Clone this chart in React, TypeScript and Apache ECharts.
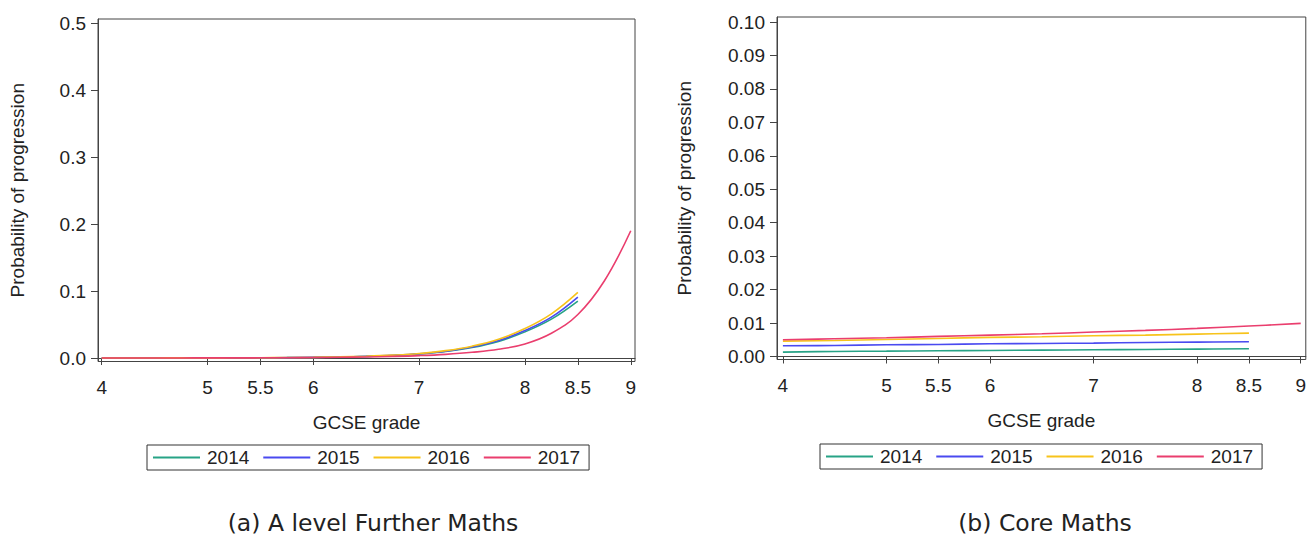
import React, { useEffect, useRef } from "react";
import * as echarts from "echarts";

// ---- Data ----
const years = ["2014", "2015", "2016", "2017"];
const colors = ["#27a386", "#4a4af0", "#f7c31b", "#ea3e6e"];

const xTickValues = [4, 5, 5.5, 6, 7, 8, 8.5, 9];
const yTicksA = [0, 0.1, 0.2, 0.3, 0.4, 0.5];
const yTicksB = [0, 0.01, 0.02, 0.03, 0.04, 0.05, 0.06, 0.07, 0.08, 0.09, 0.1];

// (a) A level Further Maths
const gradesA = [4, 4.25, 4.5, 4.75, 5, 5.25, 5.5, 5.75, 6, 6.25, 6.5, 6.75, 7, 7.25, 7.5, 7.75, 8, 8.25, 8.5];
const gradesA2017 = [4, 4.25, 4.5, 4.75, 5, 5.25, 5.5, 5.75, 6, 6.25, 6.5, 6.75, 7, 7.25, 7.5, 7.75, 8, 8.25, 8.5, 8.75, 9];
const fm2014 = [0.0001, 0.0001, 0.0001, 0.0002, 0.0002, 0.0003, 0.0004, 0.0006, 0.0009, 0.0015, 0.0024, 0.0038, 0.006, 0.0097, 0.0156, 0.0248, 0.039, 0.058, 0.085];
const fm2015 = [0.0001, 0.0001, 0.0001, 0.0002, 0.0002, 0.0003, 0.0004, 0.0006, 0.001, 0.0016, 0.0025, 0.004, 0.0063, 0.0102, 0.0164, 0.026, 0.041, 0.061, 0.091];
const fm2016 = [0.0001, 0.0001, 0.0001, 0.0002, 0.0002, 0.0003, 0.0004, 0.0007, 0.001, 0.0017, 0.0027, 0.0043, 0.0068, 0.011, 0.0177, 0.028, 0.044, 0.066, 0.098];
const fm2017 = [0.0001, 0.0001, 0.0001, 0.0001, 0.0002, 0.0002, 0.0003, 0.0005, 0.0007, 0.0011, 0.0016, 0.0024, 0.0036, 0.0055, 0.0085, 0.013, 0.021, 0.037, 0.065, 0.115, 0.19];

// (b) Core Maths
const gradesB = [4, 4.5, 5, 5.5, 6, 6.5, 7, 7.5, 8, 8.5];
const gradesB2017 = [4, 4.5, 5, 5.5, 6, 6.5, 7, 7.5, 8, 8.5, 9];
const cm2014 = [0.0013, 0.0015, 0.0016, 0.0017, 0.0018, 0.0019, 0.002, 0.0021, 0.0022, 0.0023];
const cm2015 = [0.0032, 0.0033, 0.0035, 0.0036, 0.0038, 0.0039, 0.004, 0.0042, 0.0043, 0.0044];
const cm2016 = [0.0046, 0.0048, 0.0051, 0.0054, 0.0057, 0.0059, 0.0062, 0.0064, 0.0067, 0.007];
const cm2017 = [0.005, 0.0053, 0.0056, 0.006, 0.0064, 0.0068, 0.0073, 0.0078, 0.0084, 0.0091, 0.0099];

const captionA = "(a) A level Further Maths";
const captionB = "(b) Core Maths";

const FONT = "'Liberation Sans', Arial, sans-serif";
const CAPTION_FONT = "'DejaVu Sans', 'Open Sans', sans-serif";
const AXIS_COLOR = "#444";
const TEXT_COLOR = "#222";
const FS = 19;

function pairs(xs: number[], ys: number[]) {
  return xs.map((x, i) => [x, ys[i]]);
}

function makeX(gridIndex: number, min: number, max: number) {
  return {
    type: "value",
    gridIndex,
    min,
    max,
    name: "GCSE grade",
    nameLocation: "middle",
    nameGap: 51,
    nameTextStyle: { fontFamily: FONT, fontSize: FS, color: TEXT_COLOR },
    axisLine: { show: true, lineStyle: { color: AXIS_COLOR, width: 1 } },
    axisTick: { show: true, length: 7, customValues: xTickValues, lineStyle: { color: AXIS_COLOR } },
    axisLabel: {
      show: true,
      customValues: xTickValues,
      margin: 16,
      fontFamily: FONT,
      fontSize: FS,
      color: TEXT_COLOR,
      formatter: (v: number) => String(v),
    },
    splitLine: { show: false },
  };
}

function makeY(gridIndex: number, min: number, max: number, ticks: number[], digits: number, gap: number) {
  return {
    type: "value",
    gridIndex,
    min,
    max,
    name: "Probability of progression",
    nameLocation: "middle",
    nameGap: gap,
    nameTextStyle: { fontFamily: FONT, fontSize: FS, color: TEXT_COLOR },
    axisLine: { show: true, lineStyle: { color: AXIS_COLOR, width: 1 } },
    axisTick: { show: true, length: 7, customValues: ticks, lineStyle: { color: AXIS_COLOR } },
    axisLabel: {
      show: true,
      customValues: ticks,
      margin: 12,
      fontFamily: FONT,
      fontSize: FS,
      color: TEXT_COLOR,
      formatter: (v: number) => v.toFixed(digits),
    },
    splitLine: { show: false },
  };
}

function line(name: string, color: string, data: number[][], idx: number) {
  return {
    type: "line",
    name,
    xAxisIndex: idx,
    yAxisIndex: idx,
    data,
    smooth: 0.4,
    showSymbol: false,
    symbol: "none",
    lineStyle: { color, width: 1.6 },
    itemStyle: { color },
    emphasis: { disabled: true },
  };
}

function legend(left: number, top: number) {
  return {
    left,
    top,
    orient: "horizontal",
    data: years,
    icon: "rect",
    itemWidth: 47,
    itemHeight: 2,
    itemGap: 14,
    padding: [3, 9, 3, 6],
    borderColor: "#333",
    borderWidth: 1,
    backgroundColor: "#fff",
    textStyle: { fontFamily: FONT, fontSize: FS, color: TEXT_COLOR, padding: [0, 0, 0, 2] },
    selectedMode: false,
  };
}

export default function App() {
  const ref = useRef<HTMLDivElement>(null);

  useEffect(() => {
    if (!ref.current) return;
    const chart = echarts.init(ref.current, undefined, { renderer: "svg" });
    const option = {
      animation: false,
      backgroundColor: "#fff",
      grid: [
        { left: 98, top: 19, width: 537, height: 342.5, show: true, borderColor: AXIS_COLOR, borderWidth: 1, backgroundColor: "#fff" },
        { left: 777, top: 17, width: 537, height: 342.5, show: true, borderColor: AXIS_COLOR, borderWidth: 1, backgroundColor: "#fff" },
      ],
      xAxis: [makeX(0, 3.965, 9.04), makeX(1, 3.943, 9.049)],
      yAxis: [
        makeY(0, -0.0052, 0.506, yTicksA, 1, 71),
        makeY(1, -0.0009, 0.1015, yTicksB, 2, 83),
      ],
      legend: [legend(147, 445), legend(820, 444)],
      series: [
        line(years[0], colors[0], pairs(gradesA, fm2014), 0),
        line(years[1], colors[1], pairs(gradesA, fm2015), 0),
        line(years[2], colors[2], pairs(gradesA, fm2016), 0),
        line(years[3], colors[3], pairs(gradesA2017, fm2017), 0),
        line(years[0], colors[0], pairs(gradesB, cm2014), 1),
        line(years[1], colors[1], pairs(gradesB, cm2015), 1),
        line(years[2], colors[2], pairs(gradesB, cm2016), 1),
        line(years[3], colors[3], pairs(gradesB2017, cm2017), 1),
      ],
      graphic: [
        {
          type: "text",
          x: 373,
          y: 523,
          style: {
            text: captionA,
            fontFamily: CAPTION_FONT,
            fontSize: 23.5,
            fill: TEXT_COLOR,
            textAlign: "center",
            textVerticalAlign: "middle",
          },
        },
        {
          type: "text",
          x: 1045,
          y: 523,
          style: {
            text: captionB,
            fontFamily: CAPTION_FONT,
            fontSize: 23.5,
            fill: TEXT_COLOR,
            textAlign: "center",
            textVerticalAlign: "middle",
          },
        },
      ],
    };
    chart.setOption(option as any);
    return () => chart.dispose();
  }, []);

  return (
    <div
      ref={ref}
      style={{ position: "fixed", left: 0, top: 0, width: 1309, height: 538, background: "#fff" }}
    />
  );
}
